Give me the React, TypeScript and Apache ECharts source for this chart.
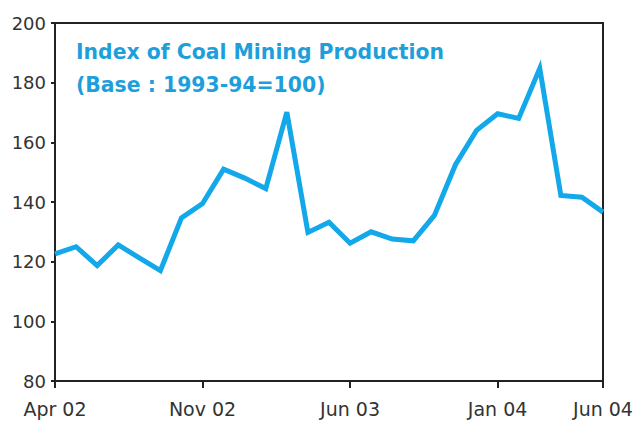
import React, { useEffect, useRef } from "react";
import * as echarts from "echarts";

const months = [
  "Apr 02", "May 02", "Jun 02", "Jul 02", "Aug 02", "Sep 02", "Oct 02",
  "Nov 02", "Dec 02", "Jan 03", "Feb 03", "Mar 03", "Apr 03", "May 03",
  "Jun 03", "Jul 03", "Aug 03", "Sep 03", "Oct 03", "Nov 03", "Dec 03",
  "Jan 04", "Feb 04", "Mar 04", "Apr 04", "May 04", "Jun 04",
];
const coalIndex = [
  122.6, 125, 118.7, 125.6, 121.3, 117, 134.7,
  139.5, 151, 148, 144.5, 170.1, 129.8, 133.2,
  126.2, 130, 127.6, 127, 135.5, 152.5, 164,
  169.6, 168, 184.8, 142.2, 141.6, 136.6,
];
const labelledIdx = [0, 7, 14, 21, 26];
const titleLines = ["Index of Coal Mining Production", "(Base : 1993-94=100)"];

export default function App() {
  const ref = useRef<HTMLDivElement>(null);
  useEffect(() => {
    const chart = echarts.init(ref.current!, null, { renderer: "svg" });
    chart.setOption({
      animation: false,
      backgroundColor: "#ffffff",
      textStyle: { fontFamily: "DejaVu Sans" },
      graphic: [
        {
          type: "text",
          left: 76,
          top: 35,
          style: {
            text: titleLines.join("\n"),
            fontFamily: "DejaVu Sans",
            fontWeight: "bold",
            fontSize: 20.4,
            lineHeight: 33,
            fill: "#1E9FDB",
          },
        },
      ],
      grid: {
        left: 55,
        right: 34,
        top: 23,
        bottom: 42,
        show: true,
        borderColor: "#222",
        borderWidth: 2,
        backgroundColor: "transparent",
      },
      xAxis: {
        type: "category",
        data: months,
        boundaryGap: false,
        axisLine: { lineStyle: { color: "#222", width: 2 } },
        axisTick: {
          length: 7,
          lineStyle: { color: "#222", width: 2 },
          interval: (i: number) => labelledIdx.includes(i),
        },
        axisLabel: {
          interval: (i: number) => labelledIdx.includes(i),
          color: "#333",
          fontSize: 19,
          fontFamily: "DejaVu Sans",
          margin: 18,
        },
        splitLine: { show: false },
      },
      yAxis: {
        type: "value",
        min: 80,
        max: 200,
        interval: 20,
        axisLine: { show: true, lineStyle: { color: "#222", width: 2 } },
        axisTick: { show: true, length: 4, lineStyle: { color: "#222", width: 2 } },
        axisLabel: {
          color: "#333",
          fontSize: 18,
          fontFamily: "DejaVu Sans",
          margin: 9,
          padding: [0, 0, 7, 0],
        },
        splitLine: { show: false },
      },
      series: [
        {
          type: "line",
          data: coalIndex,
          symbol: "none",
          lineStyle: { color: "#12A8EA", width: 5, join: "miter" },
        },
      ],
    });
    return () => chart.dispose();
  }, []);
  return (
    <div
      ref={ref}
      style={{ position: "absolute", left: 0, top: 0, width: 637, height: 423 }}
    />
  );
}
